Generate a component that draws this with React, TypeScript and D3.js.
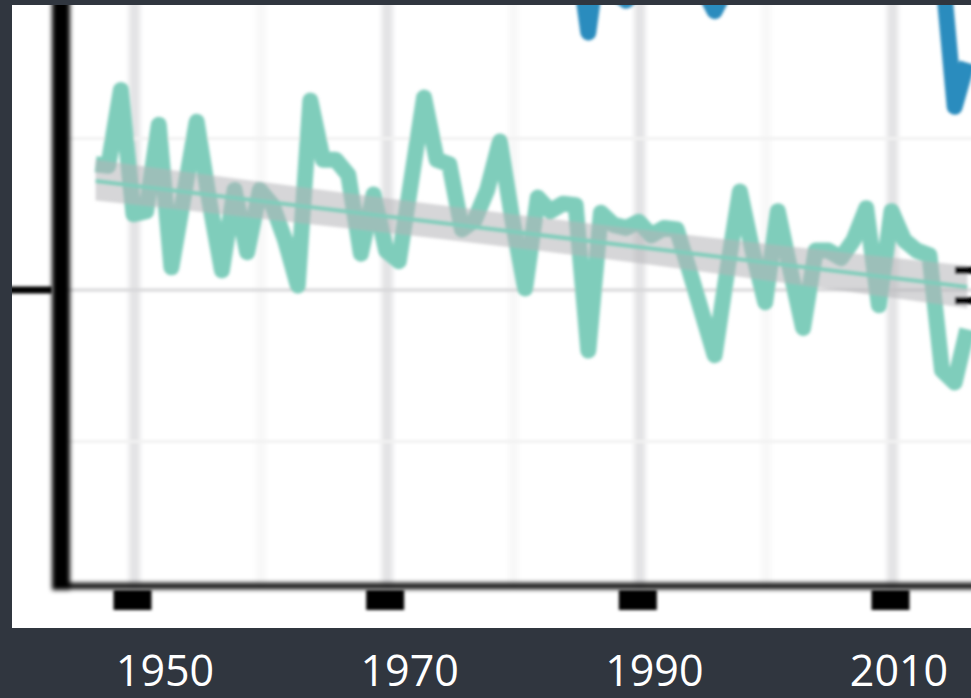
import React, { useEffect } from 'react';
import * as d3 from 'd3';

// ---- data ----
const startYear = 1947;
const tealValues = [
  0.83, 0.82, 1.32, 0.50, 0.52, 1.09, 0.15, 0.63, 1.11, 0.59, // 1947-1956
  0.13, 0.66, 0.25, 0.66, 0.56, 0.33, 0.03, 1.25, 0.86, 0.86, // 1957-1966
  0.76, 0.24, 0.63, 0.26, 0.19, 0.73, 1.27, 0.86, 0.83, 0.40, // 1967-1976
  0.46, 0.66, 0.98, 0.46, 0.01, 0.61, 0.52, 0.57, 0.56, -0.40, // 1977-1986
  0.51, 0.43, 0.41, 0.45, 0.36, 0.41, 0.40, 0.13, -0.15, -0.43, // 1987-1996
  0.13, 0.65, 0.26, -0.08, 0.52, 0.13, -0.25, 0.26, 0.26, 0.21, // 1997-2006
  0.33, 0.54, -0.10, 0.52, 0.33, 0.26, 0.23, -0.53, -0.61, -0.26, // 2007-2016
];
const blueValues = [
  2.60, 2.55, 3.05, 2.40, 2.45, 2.95, 2.20, 2.60, 3.00, 2.55, // 1947-1956
  2.15, 2.65, 2.30, 2.60, 2.50, 2.35, 2.10, 3.05, 2.75, 2.80, // 1957-1966
  2.70, 2.25, 2.55, 2.30, 2.20, 2.65, 3.10, 2.75, 2.70, 2.35, // 1967-1976
  2.40, 2.55, 2.85, 2.40, 2.05, 2.50, 2.40, 2.45, 2.31, 1.70, // 1977-1986
  2.31, 1.97, 1.91, 1.99, 2.10, 2.15, 2.12, 2.05, 2.00, 1.84, // 1987-1996
  2.00, 2.45, 2.15, 2.04, 2.40, 2.10, 2.05, 2.15, 2.20, 2.12, // 1997-2006
  2.25, 2.40, 2.06, 2.35, 2.22, 2.18, 2.15, 2.13, 1.21, 1.50, // 2007-2016
];
const trendYears = [1947, 2016];
const trendValues = [0.72, 0.02];
const bandYears = [1947, 1982, 2016];
const bandLower = [0.59, 0.26, -0.12];
const bandUpper = [0.86, 0.48, 0.16];
const majorXTicks = [1950, 1970, 1990, 2010];
const minorXTicks = [1960, 1980, 2000];
const xTickLabels = ['1950', '1970', '1990', '2010'];
const majorYTicks = [0];
const minorYTicks = [-1, 1];
const rightMarks = [0.13, -0.07];

const TEAL = '#7fcdbb';
const BLUE = '#2b8cbe';
const BG = '#30363f';

export default function App() {
  useEffect(() => {
    document.body.style.margin = '0';
  }, []);

  const W = 971;
  const H = 698;
  const plot = { left: 12, top: 5, right: 971, bottom: 628 };
  const axisX = 61; // left axis centre
  const axisY = 586; // bottom axis centre

  const x = d3.scaleLinear().domain([1950, 2010]).range([133.5, 891.5]);
  const y = d3.scaleLinear().domain([-1, 1]).range([441.5, 138.5]);
  const labelX = d3.scaleLinear().domain([1950, 2010]).range([165, 899]);

  const teal = tealValues.map((v, i) => ({ year: startYear + i, v }));
  const blue = blueValues.map((v, i) => ({ year: startYear + i, v }));
  const trend = trendYears.map((yr, i) => ({ year: yr, v: trendValues[i] }));
  const band = bandYears.map((yr, i) => ({ year: yr, lo: bandLower[i], hi: bandUpper[i] }));

  const line = d3
    .line<{ year: number; v: number }>()
    .x((d) => x(d.year))
    .y((d) => y(d.v));
  const area = d3
    .area<{ year: number; lo: number; hi: number }>()
    .x((d) => x(d.year))
    .y0((d) => y(d.lo))
    .y1((d) => y(d.hi))
    .curve(d3.curveNatural);

  return (
    <div style={{ position: 'absolute', left: 0, top: 0 }}>
      <svg width={W} height={H} style={{ display: 'block' }}>
        <defs>
          <clipPath id="plotClip">
            <rect x={plot.left} y={plot.top} width={plot.right - plot.left} height={plot.bottom - plot.top} />
          </clipPath>
          <filter id="soft" x="-5%" y="-5%" width="110%" height="110%">
            <feGaussianBlur stdDeviation="1.7" />
          </filter>
          <filter id="softer" x="-5%" y="-5%" width="110%" height="110%">
            <feGaussianBlur stdDeviation="2.6" />
          </filter>
        </defs>
        <rect x={0} y={0} width={W} height={H} fill={BG} />
        <rect x={plot.left} y={plot.top} width={plot.right - plot.left} height={plot.bottom - plot.top} fill="#ffffff" />
        <g clipPath="url(#plotClip)">
          <g filter="url(#softer)">
            {minorXTicks.map((t) => (
              <line key={'mx' + t} x1={x(t) + 1} x2={x(t) + 1} y1={plot.top - 10} y2={axisY} stroke="#f8f8f8" strokeWidth={10} />
            ))}
            {majorXTicks.map((t) => (
              <line key={'Mx' + t} x1={x(t) + 1} x2={x(t) + 1} y1={plot.top - 10} y2={axisY} stroke="#e3e3e5" strokeWidth={11} />
            ))}
          </g>
          <g filter="url(#soft)">
            {minorYTicks.map((t) => (
              <line key={'my' + t} x1={axisX} x2={plot.right + 10} y1={y(t)} y2={y(t)} stroke="#f1f1f1" strokeWidth={3} />
            ))}
            {majorYTicks.map((t) => (
              <line key={'My' + t} x1={axisX} x2={plot.right + 10} y1={y(t)} y2={y(t)} stroke="#d6d6d8" strokeWidth={3} />
            ))}
            <path d={line(teal) || ''} fill="none" stroke={TEAL} strokeWidth={16} strokeLinejoin="round" strokeLinecap="butt" />
            <path d={line(blue) || ''} fill="none" stroke={BLUE} strokeWidth={16} strokeLinejoin="round" strokeLinecap="butt" />
            <path d={area(band) || ''} fill="#b5b5b8" fillOpacity={0.55} />
            <path d={line(trend) || ''} fill="none" stroke={TEAL} strokeWidth={4} />
            {rightMarks.map((m) => (
              <rect key={'rm' + m} x={955} y={y(m) - 3.5} width={30} height={7} fill="#000" />
            ))}
          </g>
          <g filter="url(#softer)">
            <rect x={axisX - 9} y={plot.top - 10} width={18} height={590 - plot.top + 10} fill="#000" />
            <rect x={axisX} y={axisY - 3} width={plot.right - axisX + 10} height={6} fill="#000" />
          </g>
          <g filter="url(#soft)">
            {majorYTicks.map((t) => (
              <rect key={'yt' + t} x={plot.left - 10} y={y(t) - 3.5} width={axisX - 9 - plot.left + 10} height={7} fill="#000" />
            ))}
            {majorXTicks.map((t) => (
              <rect key={'xt' + t} x={x(t) - 1 - 19} y={590} width={38} height={20} fill="#000" />
            ))}
          </g>
        </g>
        {majorXTicks.map((t, i) => (
          <text
            key={'lab' + t}
            x={labelX(t)}
            y={686}
            textAnchor="middle"
            fill="#ffffff"
            fontFamily="'Open Sans', 'Noto Sans', sans-serif"
            fontSize={43}
          >
            {xTickLabels[i]}
          </text>
        ))}
      </svg>
    </div>
  );
}
